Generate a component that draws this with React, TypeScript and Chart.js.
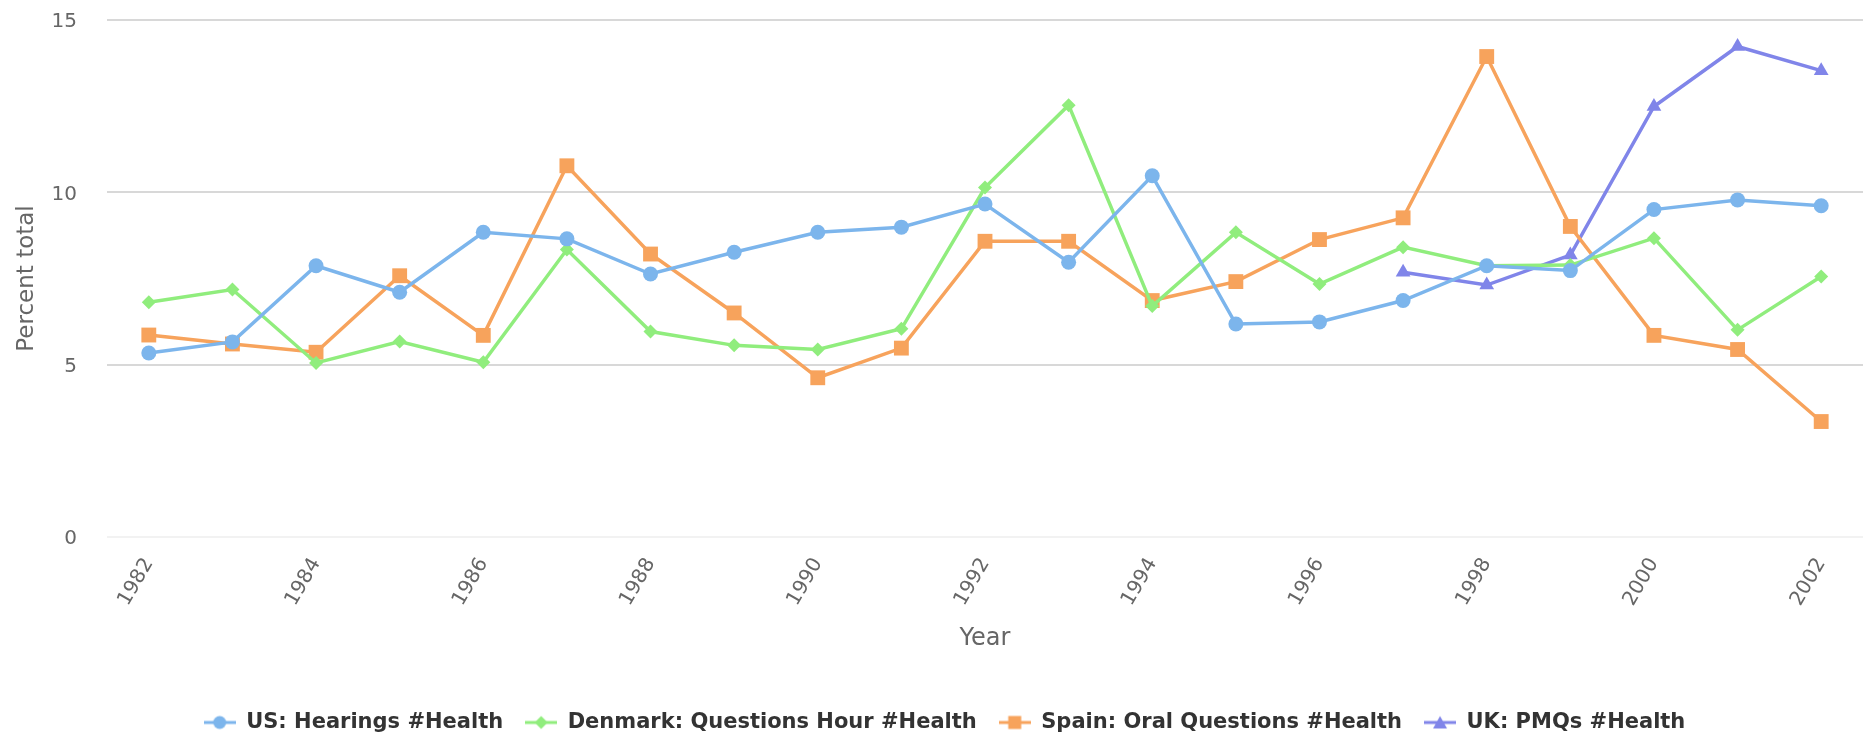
import { useEffect, useRef } from 'react';
import { Chart, registerables } from 'chart.js';

Chart.register(...registerables);

const years = ['1982', '1983', '1984', '1985', '1986', '1987', '1988', '1989', '1990', '1991', '1992', '1993', '1994', '1995', '1996', '1997', '1998', '1999', '2000', '2001', '2002'];

const usHearings = [5.34, 5.66, 7.87, 7.10, 8.84, 8.65, 7.63, 8.26, 8.84, 8.99, 9.66, 7.97, 10.48, 6.18, 6.24, 6.86, 7.87, 7.73, 9.50, 9.78, 9.61];
const denmarkQuestions = [6.81, 7.18, 5.05, 5.67, 5.07, 8.34, 5.96, 5.56, 5.44, 6.04, 10.14, 12.53, 6.70, 8.84, 7.34, 8.41, 7.87, 7.89, 8.67, 6.01, 7.56];
const spainOral = [5.86, 5.60, 5.36, 7.58, 5.85, 10.77, 8.21, 6.50, 4.62, 5.48, 8.58, 8.58, 6.86, 7.41, 8.63, 9.26, 13.94, 9.01, 5.85, 5.44, 3.35];
const ukPMQs = [null, null, null, null, null, null, null, null, null, null, null, null, null, null, null, 7.68, 7.31, 8.18, 12.49, 14.23, 13.53];

const seriesNames = ['US: Hearings #Health', 'Denmark: Questions Hour #Health', 'Spain: Oral Questions #Health', 'UK: PMQs #Health'];
const seriesColors = ['#7cb5ec', '#90ed7d', '#f7a35c', '#8085e9'];
const seriesShapes = ['circle', 'rectRot', 'rect', 'triangle'];
const seriesRadii = [7.5, 7, 10.5, 8.5];

const FONT = '"DejaVu Sans", Verdana, sans-serif';

function makeLegendIcon(color: string, shape: string): HTMLCanvasElement {
  const c = document.createElement('canvas');
  c.width = 32;
  c.height = 18;
  const g = c.getContext('2d')!;
  g.strokeStyle = color;
  g.fillStyle = color;
  g.lineWidth = 3;
  g.beginPath();
  g.moveTo(0, 9);
  g.lineTo(32, 9);
  g.stroke();
  g.beginPath();
  if (shape === 'circle') {
    g.arc(16, 9, 6.5, 0, Math.PI * 2);
  } else if (shape === 'rectRot') {
    g.moveTo(16, 2.5);
    g.lineTo(22.5, 9);
    g.lineTo(16, 15.5);
    g.lineTo(9.5, 9);
    g.closePath();
  } else if (shape === 'rect') {
    g.rect(9.5, 2.5, 13, 13);
  } else {
    g.moveTo(16, 2.5);
    g.lineTo(23, 15);
    g.lineTo(9, 15);
    g.closePath();
  }
  g.fill();
  return c;
}

const legendShift = {
  id: 'legendShift',
  afterLayout(chart: any) {
    const l = chart.legend;
    if (!l) return;
    l.top += 4;
    l.bottom += 4;
    l.left += 13;
    l.right += 13;
  },
};

export default function App() {
  const ref = useRef<HTMLCanvasElement>(null);

  useEffect(() => {
    document.body.style.margin = '0';
    const canvas = ref.current!;
    const values = [usHearings, denmarkQuestions, spainOral, ukPMQs];
    const icons = seriesColors.map((c, i) => makeLegendIcon(c, seriesShapes[i]));

    const chart = new Chart(canvas, {
      type: 'line',
      data: {
        labels: years,
        datasets: values.map((v, i) => ({
          label: seriesNames[i],
          data: v as any,
          borderColor: seriesColors[i],
          backgroundColor: seriesColors[i],
          pointBackgroundColor: seriesColors[i],
          pointBorderColor: seriesColors[i],
          pointBorderWidth: 0,
          pointStyle: seriesShapes[i] as any,
          pointRadius: seriesRadii[i],
          borderWidth: 3.5,
          tension: 0,
          fill: false,
          spanGaps: false,
          clip: false as any,
        })),
      },
      options: {
        animation: false,
        responsive: false,
        devicePixelRatio: 1,
        layout: { autoPadding: false, padding: { top: 20, right: 0, bottom: 0, left: 0 } },
        plugins: {
          tooltip: { enabled: false },
          legend: {
            position: 'bottom',
            labels: {
              usePointStyle: true,
              pointStyleWidth: 32,
              padding: 22,
              color: '#333333',
              font: { family: FONT, size: 21, weight: 'bold' },
              generateLabels: (ch: any) => {
                const base = Chart.defaults.plugins.legend.labels.generateLabels(ch);
                return base.map((item: any, i: number) => ({ ...item, pointStyle: icons[i], lineWidth: 0 }));
              },
            },
          },
        },
        scales: {
          x: {
            type: 'category',
            offset: true,
            grid: { display: false, drawTicks: false },
            border: { display: false },
            ticks: {
              minRotation: 60,
              maxRotation: 60,
              autoSkip: false,
              padding: 17,
              color: '#666666',
              font: { family: FONT, size: 20 },
              callback: function (this: any, val: any, idx: number) {
                return idx % 2 === 0 ? years[idx] : null;
              },
            },
            title: {
              display: true,
              text: 'Year',
              color: '#666666',
              font: { family: FONT, size: 24 },
              padding: { top: 0, bottom: 33 },
            },
            afterFit: (s: any) => {
              s.height = 149;
              s.paddingLeft = 0;
              s.paddingRight = 0;
            },
          },
          y: {
            min: 0,
            max: 15,
            ticks: {
              stepSize: 5,
              padding: 30,
              labelOffset: 2,
              color: '#666666',
              font: { family: FONT, size: 20 },
            },
            grid: {
              drawTicks: false,
              lineWidth: 2,
              color: (c: any) => (c.tick && c.tick.value === 0 ? '#f2f2f2' : '#d8d8d8'),
            },
            border: { display: false },
            title: {
              display: true,
              text: 'Percent total',
              color: '#666666',
              font: { family: FONT, size: 23 },
              padding: { top: 13, bottom: 0 },
            },
            afterFit: (s: any) => {
              s.width = 107;
              s.paddingTop = 0;
              s.paddingBottom = 0;
            },
          },
        },
      },
      plugins: [legendShift],
    });
    return () => chart.destroy();
  }, []);

  return (
    <div style={{ width: 1863, height: 739 }}>
      <canvas ref={ref} width={1863} height={739} style={{ display: 'block' }} />
    </div>
  );
}
